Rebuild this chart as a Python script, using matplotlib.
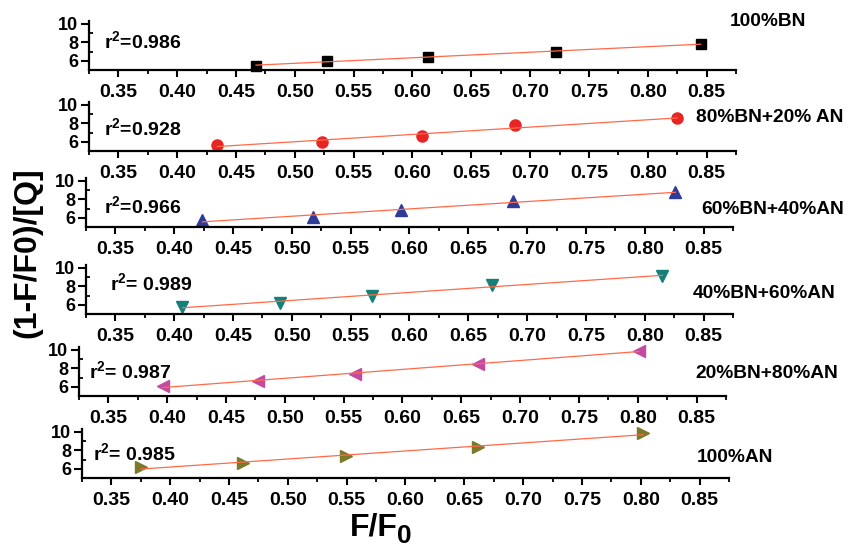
import numpy as np
import matplotlib
matplotlib.use("Agg")
import matplotlib.pyplot as plt
from matplotlib.ticker import MultipleLocator

plt.rcParams['font.family'] = ['Liberation Sans', 'DejaVu Sans']
plt.rcParams['font.weight'] = 'bold'
plt.rcParams['mathtext.fontset'] = 'custom'
plt.rcParams['mathtext.rm'] = 'Liberation Sans:bold'
plt.rcParams['mathtext.bf'] = 'Liberation Sans:bold'
plt.rcParams['mathtext.it'] = 'Liberation Sans:bold'
plt.rcParams['mathtext.default'] = 'bf'

# ---- data ----
labels = ["100%BN", "80%BN+20% AN", "60%BN+40%AN", "40%BN+60%AN", "20%BN+80%AN", "100%AN"]
r2_texts = ["r$^2$=0.986", "r$^2$=0.928", "r$^2$=0.966", "r$^2$= 0.989", "r$^2$= 0.987", "r$^2$= 0.985"]

x_bn100 = [0.467, 0.527, 0.613, 0.722, 0.845]
y_bn100 = [5.46, 5.95, 6.45, 7.00, 7.80]

x_bn80 = [0.434, 0.523, 0.608, 0.687, 0.825]
y_bn80 = [5.68, 5.97, 6.57, 7.84, 8.52]

x_bn60 = [0.424, 0.518, 0.593, 0.688, 0.826]
y_bn60 = [5.74, 6.04, 6.86, 7.80, 8.74]

x_bn40 = [0.407, 0.490, 0.568, 0.670, 0.815]
y_bn40 = [5.81, 6.19, 7.00, 8.11, 9.14]

x_bn20 = [0.396, 0.477, 0.560, 0.664, 0.801]
y_bn20 = [6.07, 6.60, 7.37, 8.46, 9.90]

x_an100 = [0.375, 0.462, 0.549, 0.662, 0.802]
y_an100 = [6.14, 6.62, 7.40, 8.34, 9.82]

xs = [x_bn100, x_bn80, x_bn60, x_bn40, x_bn20, x_an100]
ys = [y_bn100, y_bn80, y_bn60, y_bn40, y_bn20, y_an100]

markers = ['s', 'o', '^', 'v', '<', '>']
msizes = [7, 8, 9, 9, 9, 9]
colors = ['#000000', '#E82525', '#2E3C98', '#14807A', '#C24AA2', '#7A7A2A']
fit_color = '#FF6A48'

# ---- layout (pixels) ----
W, H = 849, 548
panel_lr = [(89, 736), (89, 736), (86, 733), (86, 733), (79, 726), (82, 729)]
panel_bottom = [70, 151, 227, 314, 396, 478]
panel_h = 49
r2_pos = [(104, 41), (104, 128), (104, 206), (110, 283), (89, 371), (93, 453)]
lab_pos = [(730, 22), (696, 118), (701, 209), (693, 293), (695, 374), (697, 458)]

fig = plt.figure(figsize=(W / 100, H / 100), dpi=100)

for i in range(6):
    L, R = panel_lr[i]
    b = panel_bottom[i]
    ax = fig.add_axes([L / W, (H - b) / H, (R - L) / W, panel_h / H])
    x = np.array(xs[i])
    y = np.array(ys[i])
    ax.plot(x, y, linestyle='none', marker=markers[i], ms=msizes[i],
            color=colors[i], mec=colors[i], zorder=2, clip_on=False)
    k, c = np.polyfit(x, y, 1)
    xf = np.array([x.min(), x.max()])
    ax.plot(xf, k * xf + c, color=fit_color, lw=0.9, zorder=3)

    ax.set_xlim(0.325, 0.875)
    ax.set_ylim(5, 10.3)
    for s in ['top', 'right']:
        ax.spines[s].set_visible(False)
    for s in ['left', 'bottom']:
        ax.spines[s].set_linewidth(1.6)
    ax.xaxis.set_minor_locator(MultipleLocator(0.025))
    ax.yaxis.set_minor_locator(MultipleLocator(1))
    ticks = np.arange(0.35, 0.851, 0.05)
    ax.set_xticks(ticks)
    ax.set_xticklabels([f"{v:.2f}" for v in ticks])
    ax.set_yticks([6, 8, 10])
    ax.set_yticklabels(["6", "8", "10"])
    ax.tick_params(axis='x', which='major', direction='out', length=5, width=1.5,
                   labelsize=14, pad=5)
    ax.tick_params(axis='x', which='minor', direction='out', length=3, width=1.3)
    ax.tick_params(axis='y', which='major', direction='out', length=6, width=1.5,
                   labelsize=13, pad=2)
    ax.tick_params(axis='y', which='minor', direction='in', length=3, width=1.3)
    for t in ax.get_xticklabels() + ax.get_yticklabels():
        t.set_fontweight('bold')
    ax.patch.set_alpha(0)

    rx, ry = r2_pos[i]
    fig.text(rx / W, 1 - ry / H, r2_texts[i], fontsize=14, fontweight='bold',
             ha='left', va='center')
    lx, ly = lab_pos[i]
    fig.text(lx / W, 1 - ly / H, labels[i], fontsize=13.8, fontweight='bold',
             ha='left', va='center')

fig.text(27 / W, 1 - 253 / H, "(1-F/F0)/[Q]", rotation=90, fontsize=23,
         fontweight='bold', ha='center', va='center')
fig.text(350 / W, 1 - 535 / H, "F/F", fontsize=23, fontweight='bold',
         ha='left', va='baseline')
fig.text(397 / W, 1 - 543 / H, "0", fontsize=19, fontweight='bold',
         ha='left', va='baseline')

fig.savefig("out.png", dpi=100)
